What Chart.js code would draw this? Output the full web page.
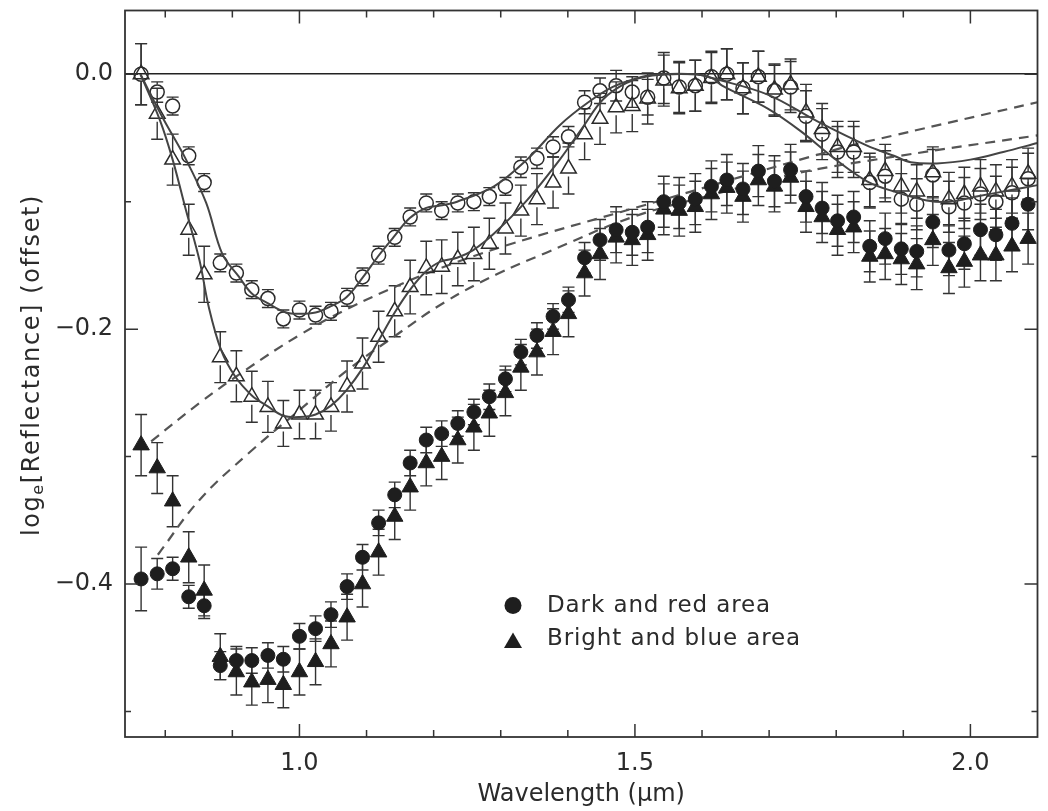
<!DOCTYPE html>
<html>
<head>
<meta charset="utf-8">
<script src="https://cdn.jsdelivr.net/npm/chart.js@4.4.0/dist/chart.umd.min.js"></script>
<style>
  html, body { margin: 0; padding: 0; background: #fff; }
</style>
</head>
<body>
<canvas id="espectroChart" width="1048" height="811"></canvas>
<script>
// longitudes de onda de los canales (µm)
const longitudes = [0.764, 0.788, 0.811, 0.835, 0.858, 0.882, 0.906, 0.929, 0.953, 0.976,
    1.000, 1.024, 1.047, 1.071, 1.094, 1.118, 1.142, 1.165, 1.189, 1.212,
    1.236, 1.260, 1.283, 1.307, 1.330, 1.354, 1.378, 1.401, 1.425, 1.448,
    1.472, 1.496, 1.519, 1.543, 1.566, 1.590, 1.614, 1.637, 1.661, 1.684,
    1.708, 1.732, 1.755, 1.779, 1.802, 1.826, 1.850, 1.873, 1.897, 1.920,
    1.944, 1.968, 1.991, 2.015, 2.038, 2.062, 2.086];

// area oscura y roja, continuo removido (circulos abiertos)
const oscuraSinCont = [0.000, -0.014, -0.025, -0.064, -0.085, -0.148, -0.156, -0.169, -0.176, -0.192,
    -0.185, -0.189, -0.186, -0.175, -0.159, -0.142, -0.128, -0.112, -0.101, -0.107,
    -0.101, -0.100, -0.096, -0.088, -0.073, -0.066, -0.057, -0.049, -0.022, -0.013,
    -0.009, -0.014, -0.018, -0.003, -0.010, -0.009, -0.002, 0.000, -0.011, -0.002,
    -0.013, -0.010, -0.033, -0.047, -0.061, -0.061, -0.085, -0.080, -0.098, -0.102,
    -0.079, -0.104, -0.101, -0.094, -0.100, -0.093, -0.082];
const oscuraSinContErr = [0.024, 0.008, 0.007, 0.007, 0.007, 0.007, 0.007, 0.007, 0.007, 0.007,
    0.007, 0.007, 0.007, 0.007, 0.007, 0.007, 0.007, 0.007, 0.007, 0.007,
    0.007, 0.007, 0.007, 0.007, 0.008, 0.008, 0.008, 0.008, 0.009, 0.010,
    0.012, 0.012, 0.014, 0.020, 0.020, 0.020, 0.020, 0.020, 0.020, 0.020,
    0.020, 0.020, 0.020, 0.020, 0.020, 0.020, 0.020, 0.020, 0.020, 0.020,
    0.020, 0.020, 0.020, 0.020, 0.020, 0.020, 0.020];

// area brillante y azul, continuo removido (triangulos abiertos)
const claraSinCont = [0.000, -0.031, -0.067, -0.122, -0.157, -0.222, -0.237, -0.253, -0.261, -0.274,
    -0.267, -0.267, -0.261, -0.245, -0.227, -0.206, -0.186, -0.167, -0.152, -0.151,
    -0.145, -0.141, -0.133, -0.121, -0.107, -0.098, -0.085, -0.074, -0.047, -0.035,
    -0.026, -0.025, -0.019, -0.005, -0.011, -0.009, -0.003, 0.000, -0.011, -0.002,
    -0.012, -0.008, -0.030, -0.043, -0.057, -0.057, -0.083, -0.076, -0.088, -0.092,
    -0.077, -0.098, -0.094, -0.088, -0.092, -0.088, -0.078];
const claraSinContErr = [0.024, 0.020, 0.020, 0.020, 0.022, 0.020, 0.020, 0.020, 0.020, 0.018,
    0.019, 0.019, 0.019, 0.020, 0.020, 0.020, 0.020, 0.021, 0.021, 0.021,
    0.021, 0.021, 0.020, 0.020, 0.020, 0.020, 0.020, 0.020, 0.020, 0.020,
    0.020, 0.020, 0.020, 0.020, 0.020, 0.020, 0.020, 0.020, 0.020, 0.020,
    0.020, 0.020, 0.022, 0.020, 0.020, 0.020, 0.021, 0.021, 0.021, 0.021,
    0.020, 0.021, 0.021, 0.021, 0.021, 0.021, 0.020];

// area oscura y roja, espectro (circulos llenos)
const oscura = [-0.396, -0.392, -0.388, -0.410, -0.417, -0.464, -0.460, -0.460, -0.456, -0.459,
    -0.441, -0.435, -0.424, -0.402, -0.379, -0.352, -0.330, -0.305, -0.287, -0.282,
    -0.274, -0.265, -0.253, -0.239, -0.218, -0.205, -0.190, -0.177, -0.144, -0.130,
    -0.122, -0.124, -0.120, -0.100, -0.101, -0.098, -0.088, -0.083, -0.090, -0.076,
    -0.084, -0.075, -0.096, -0.105, -0.115, -0.112, -0.135, -0.129, -0.137, -0.139,
    -0.116, -0.138, -0.133, -0.122, -0.126, -0.117, -0.102];
const oscuraErr = [0.025, 0.012, 0.009, 0.009, 0.010, 0.011, 0.011, 0.010, 0.010, 0.010,
    0.010, 0.010, 0.010, 0.010, 0.010, 0.010, 0.010, 0.010, 0.010, 0.010,
    0.010, 0.010, 0.010, 0.010, 0.010, 0.010, 0.010, 0.010, 0.012, 0.016,
    0.018, 0.018, 0.020, 0.020, 0.020, 0.020, 0.020, 0.020, 0.020, 0.020,
    0.020, 0.020, 0.020, 0.020, 0.020, 0.020, 0.020, 0.020, 0.020, 0.020,
    0.020, 0.020, 0.020, 0.020, 0.020, 0.020, 0.020];

// area brillante y azul, espectro (triangulos llenos)
const clara = [-0.291, -0.309, -0.335, -0.379, -0.405, -0.457, -0.469, -0.477, -0.475, -0.479,
    -0.469, -0.461, -0.447, -0.426, -0.400, -0.375, -0.347, -0.324, -0.305, -0.300,
    -0.287, -0.277, -0.266, -0.250, -0.230, -0.218, -0.202, -0.188, -0.156, -0.141,
    -0.128, -0.130, -0.126, -0.106, -0.107, -0.104, -0.094, -0.089, -0.096, -0.083,
    -0.088, -0.081, -0.104, -0.112, -0.122, -0.120, -0.143, -0.141, -0.145, -0.149,
    -0.130, -0.152, -0.147, -0.142, -0.142, -0.135, -0.129];
const claraErr = [0.024, 0.020, 0.020, 0.020, 0.020, 0.018, 0.018, 0.018, 0.018, 0.018,
    0.018, 0.018, 0.018, 0.018, 0.018, 0.018, 0.018, 0.018, 0.018, 0.018,
    0.018, 0.018, 0.018, 0.018, 0.018, 0.018, 0.018, 0.018, 0.018, 0.020,
    0.020, 0.020, 0.020, 0.020, 0.020, 0.020, 0.020, 0.020, 0.020, 0.020,
    0.020, 0.020, 0.020, 0.020, 0.020, 0.020, 0.020, 0.020, 0.020, 0.020,
    0.020, 0.020, 0.020, 0.020, 0.020, 0.020, 0.020];

// curvas de ajuste (lineas continuas)
const ajusteOscuraX = [0.763, 0.796, 0.831, 0.861, 0.885, 0.910, 0.929, 0.954, 0.980, 1.000,
    1.024, 1.047, 1.070, 1.095, 1.117, 1.140, 1.164, 1.188, 1.210, 1.235,
    1.290, 1.339, 1.388, 1.428, 1.467, 1.511, 1.536, 1.590, 1.615, 1.630,
    1.698, 1.748, 1.797, 1.846, 1.886, 1.935, 1.970, 2.009, 2.059, 2.100];
const ajusteOscuraY = [0.000, -0.034, -0.067, -0.101, -0.141, -0.159, -0.172, -0.180, -0.187, -0.188,
    -0.187, -0.182, -0.175, -0.159, -0.143, -0.128, -0.113, -0.105, -0.103, -0.100,
    -0.088, -0.067, -0.040, -0.023, -0.010, -0.002, 0.000, 0.000, -0.003, -0.009,
    -0.027, -0.045, -0.066, -0.084, -0.092, -0.099, -0.100, -0.096, -0.091, -0.087];
const ajusteClaraX = [0.763, 0.792, 0.811, 0.831, 0.851, 0.865, 0.883, 0.904, 0.929, 0.951,
    0.976, 1.000, 1.024, 1.047, 1.070, 1.095, 1.118, 1.142, 1.165, 1.188,
    1.210, 1.235, 1.259, 1.290, 1.339, 1.388, 1.423, 1.452, 1.487, 1.526,
    1.590, 1.615, 1.698, 1.772, 1.846, 1.886, 1.911, 1.950, 2.000, 2.049, 2.100];
const ajusteClaraY = [0.000, -0.036, -0.067, -0.107, -0.146, -0.183, -0.216, -0.237, -0.252, -0.260,
    -0.268, -0.269, -0.267, -0.260, -0.248, -0.230, -0.209, -0.187, -0.169, -0.155,
    -0.147, -0.144, -0.138, -0.125, -0.099, -0.067, -0.041, -0.020, -0.007, -0.001,
    0.000, -0.003, -0.016, -0.037, -0.056, -0.064, -0.069, -0.070, -0.067, -0.061, -0.054];

// continuos (lineas discontinuas)
const continuoClaraX = [0.779, 0.851, 0.920, 0.999, 1.072, 1.146, 1.196, 1.304, 1.506, 1.807, 1.886, 2.100];
const continuoClaraY = [-0.288, -0.258, -0.232, -0.205, -0.184, -0.166, -0.155, -0.135, -0.104, -0.058, -0.048, -0.022];
const continuoOscuraX = [0.789, 0.851, 0.925, 0.999, 1.072, 1.146, 1.216, 1.294, 1.368, 1.497, 1.620, 1.738, 1.895, 2.100];
const continuoOscuraY = [-0.377, -0.334, -0.297, -0.264, -0.232, -0.204, -0.179, -0.157, -0.140, -0.112, -0.094, -0.078, -0.064, -0.048];

// marcas de los ejes
const etiquetasX = [1.0, 1.5, 2.0];
const menoresX = [0.8, 0.9, 1.1, 1.2, 1.3, 1.4, 1.6, 1.7, 1.8, 1.9];
const etiquetasY = [0.0, -0.2, -0.4];
const menoresY = [-0.1, -0.3, -0.5];

const leyenda = ['Dark and red area', 'Bright and blue area'];

const FUENTE = "'DejaVu Sans', Verdana, sans-serif";
const TINTA = '#2b2b2b';

const aPuntos = (ys) => ys.map((v, i) => ({ x: longitudes[i], y: v }));
const aCurva = (xs, ys) => xs.map((v, i) => ({ x: v, y: ys[i] }));

// barras de error dibujadas con las escalas del grafico
const barrasError = {
    id: 'barrasError',
    beforeDatasetsDraw(chart) {
        const { ctx, scales: { x, y } } = chart;
        ctx.save();
        ctx.strokeStyle = '#333';
        ctx.lineWidth = 1.4;
        chart.data.datasets.forEach(ds => {
            if (!ds.errores) return;
            const hueco = ds.hueco || 0;
            ds.data.forEach((p, j) => {
                const px = x.getPixelForValue(p.x);
                const py = y.getPixelForValue(p.y);
                const arriba = y.getPixelForValue(p.y + ds.errores[j]);
                const abajo = y.getPixelForValue(p.y - ds.errores[j]);
                ctx.beginPath();
                if (py - arriba > hueco) {
                    ctx.moveTo(px, arriba);
                    ctx.lineTo(px, py - hueco);
                }
                if (abajo - py > hueco) {
                    ctx.moveTo(px, py + hueco);
                    ctx.lineTo(px, abajo);
                }
                ctx.moveTo(px - 6, arriba);
                ctx.lineTo(px + 6, arriba);
                ctx.moveTo(px - 6, abajo);
                ctx.lineTo(px + 6, abajo);
                ctx.stroke();
            });
        });
        ctx.restore();
    }
};

// marco con marcas hacia dentro, titulo del eje y y leyenda
const marcoYTextos = {
    id: 'marcoYTextos',
    afterDraw(chart) {
        const { ctx, chartArea: a, scales: { x, y } } = chart;
        ctx.save();
        ctx.strokeStyle = '#333';
        ctx.lineWidth = 1.8;
        ctx.strokeRect(a.left, a.top, a.right - a.left, a.bottom - a.top);

        ctx.lineWidth = 1.5;
        ctx.beginPath();
        const marcaX = (v, largo) => {
            const px = x.getPixelForValue(v);
            ctx.moveTo(px, a.bottom); ctx.lineTo(px, a.bottom - largo);
            ctx.moveTo(px, a.top); ctx.lineTo(px, a.top + largo);
        };
        const marcaY = (v, largo) => {
            const py = y.getPixelForValue(v);
            ctx.moveTo(a.left, py); ctx.lineTo(a.left + largo, py);
            ctx.moveTo(a.right, py); ctx.lineTo(a.right - largo, py);
        };
        etiquetasX.forEach(v => marcaX(v, 13));
        menoresX.forEach(v => marcaX(v, 7));
        etiquetasY.forEach(v => marcaY(v, 13));
        menoresY.forEach(v => marcaY(v, 6));
        ctx.stroke();

        // titulo eje y con subindice
        ctx.fillStyle = TINTA;
        ctx.textBaseline = 'middle';
        ctx.textAlign = 'left';
        ctx.letterSpacing = '1.6px';
        ctx.translate(33, 365);
        ctx.rotate(-Math.PI / 2);
        ctx.font = `24px ${FUENTE}`;
        const w1 = ctx.measureText('log').width;
        const w3 = ctx.measureText('[Reflectance] (offset)').width;
        ctx.font = `16px ${FUENTE}`;
        const w2 = ctx.measureText('e').width;
        const sx = -(w1 + w2 + w3) / 2;
        ctx.font = `24px ${FUENTE}`;
        ctx.fillText('log', sx, 0);
        ctx.font = `16px ${FUENTE}`;
        ctx.fillText('e', sx + w1, 6);
        ctx.font = `24px ${FUENTE}`;
        ctx.fillText('[Reflectance] (offset)', sx + w1 + w2, 0);
        ctx.restore();

        // leyenda
        ctx.save();
        ctx.fillStyle = '#1e1e1e';
        ctx.beginPath();
        ctx.arc(513, 605.5, 8.5, 0, Math.PI * 2);
        ctx.fill();
        ctx.beginPath();
        ctx.moveTo(513, 632.5);
        ctx.lineTo(522, 648);
        ctx.lineTo(504, 648);
        ctx.closePath();
        ctx.fill();
        ctx.fillStyle = TINTA;
        ctx.letterSpacing = '0.9px';
        ctx.font = `23px ${FUENTE}`;
        ctx.textBaseline = 'middle';
        ctx.textAlign = 'left';
        ctx.fillText(leyenda[0], 547, 606);
        ctx.fillText(leyenda[1], 547, 639);
        ctx.restore();
    }
};

const ctx = document.getElementById('espectroChart').getContext('2d');
new Chart(ctx, {
    type: 'scatter',
    data: {
        datasets: [
            {
                label: 'Continuo brillante',
                data: aCurva(continuoClaraX, continuoClaraY),
                showLine: true, pointRadius: 0, borderColor: '#555', borderWidth: 2.2,
                borderDash: [10, 7], tension: 0.4, order: 6
            },
            {
                label: 'Continuo oscuro',
                data: aCurva(continuoOscuraX, continuoOscuraY),
                showLine: true, pointRadius: 0, borderColor: '#555', borderWidth: 2.2,
                borderDash: [10, 7], tension: 0.4, order: 6
            },
            {
                label: leyenda[1],
                data: aPuntos(clara),
                errores: claraErr, hueco: 0,
                pointStyle: 'triangle', pointRadius: 9.5,
                backgroundColor: '#1e1e1e', borderColor: '#1e1e1e', borderWidth: 1, order: 5
            },
            {
                label: leyenda[0],
                data: aPuntos(oscura),
                errores: oscuraErr, hueco: 0,
                pointStyle: 'circle', pointRadius: 7,
                backgroundColor: '#1e1e1e', borderColor: '#1e1e1e', borderWidth: 1, order: 4
            },
            {
                label: 'Brillante sin continuo',
                data: aPuntos(claraSinCont),
                errores: claraSinContErr, hueco: 8,
                pointStyle: 'triangle', pointRadius: 9,
                backgroundColor: 'rgba(0,0,0,0)', borderColor: TINTA, borderWidth: 1.5, order: 3
            },
            {
                label: 'Oscura sin continuo',
                data: aPuntos(oscuraSinCont),
                errores: oscuraSinContErr, hueco: 7.5,
                pointStyle: 'circle', pointRadius: 7,
                backgroundColor: 'rgba(0,0,0,0)', borderColor: TINTA, borderWidth: 1.5, order: 3
            },
            {
                label: 'Ajuste oscura',
                data: aCurva(ajusteOscuraX, ajusteOscuraY),
                showLine: true, pointRadius: 0, borderColor: '#444', borderWidth: 2,
                tension: 0.35, order: 1
            },
            {
                label: 'Ajuste brillante',
                data: aCurva(ajusteClaraX, ajusteClaraY),
                showLine: true, pointRadius: 0, borderColor: '#444', borderWidth: 2,
                tension: 0.35, order: 1
            }
        ]
    },
    options: {
        responsive: false,
        animation: false,
        devicePixelRatio: 1,
        layout: { padding: { left: 0, right: 5, top: 9, bottom: 0 } },
        plugins: {
            legend: { display: false },
            tooltip: { enabled: false }
        },
        scales: {
            x: {
                type: 'linear',
                min: 0.74,
                max: 2.1,
                afterBuildTicks: s => { s.ticks = etiquetasX.map(v => ({ value: v })); },
                afterFit: s => {
                    s.height = 74;
                    s.paddingLeft = 0;
                    s.paddingRight = 0;
                },
                grid: { display: false, drawTicks: false },
                border: { display: false },
                ticks: {
                    font: { family: FUENTE, size: 24 },
                    color: TINTA,
                    padding: 12,
                    maxRotation: 0,
                    autoSkip: false,
                    callback: v => v.toFixed(1)
                },
                title: {
                    display: true,
                    text: 'Wavelength (μm)',
                    font: { family: FUENTE, size: 24 },
                    color: TINTA,
                    padding: { top: 0, bottom: 2 }
                }
            },
            y: {
                type: 'linear',
                min: -0.52,
                max: 0.05,
                afterBuildTicks: s => { s.ticks = etiquetasY.map(v => ({ value: v })); },
                afterFit: s => {
                    s.width = 125;
                    s.paddingTop = 0;
                    s.paddingBottom = 0;
                },
                grid: {
                    drawTicks: false,
                    lineWidth: 1.6,
                    color: c => (c.tick && c.tick.value === 0) ? '#222' : 'rgba(0,0,0,0)'
                },
                border: { display: false },
                ticks: {
                    font: { family: FUENTE, size: 24 },
                    color: TINTA,
                    padding: 12,
                    autoSkip: false,
                    callback: v => v === 0 ? '0.0' : '\u2212' + Math.abs(v).toFixed(1)
                }
            }
        }
    },
    plugins: [barrasError, marcoYTextos]
});
</script>
</body>
</html>
